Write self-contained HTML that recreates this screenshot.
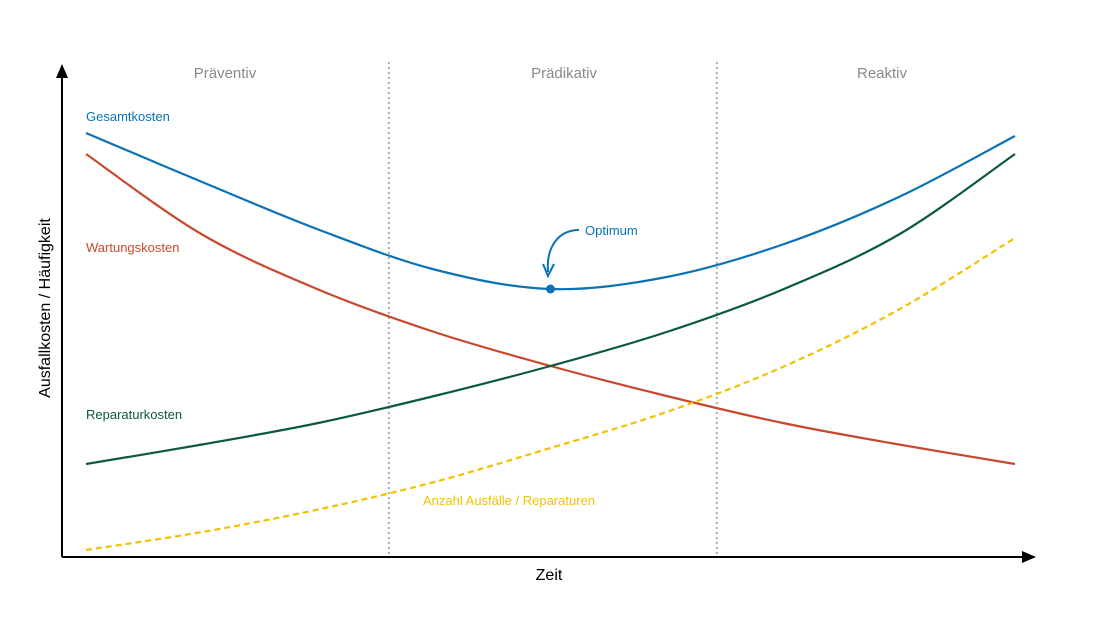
<!DOCTYPE html>
<html><head><meta charset="utf-8"><style>
body{margin:0;background:#fff;}
svg{display:block;font-family:"Liberation Sans","DejaVu Sans",sans-serif;}
</style></head><body>
<svg id="chart" width="1100" height="619" viewBox="0 0 1100 619">
<defs><marker id="ah" markerWidth="8" markerHeight="8" refX="6" refY="4" orient="auto"><path d="M0,1 L7,4 L0,7 Z" fill="#000"/></marker></defs>
<g id="grid"></g>
<line x1="62" y1="557" x2="62" y2="66" stroke="#000" stroke-width="2" marker-end="url(#ah)"/>
<line x1="62" y1="557" x2="1034" y2="557" stroke="#000" stroke-width="2" marker-end="url(#ah)"/>
<text x="225" y="78" font-size="15" fill="#8a8a8a" text-anchor="middle">Präventiv</text>
<text x="564" y="78" font-size="15" fill="#8a8a8a" text-anchor="middle">Prädikativ</text>
<text x="882" y="78" font-size="15" fill="#8a8a8a" text-anchor="middle">Reaktiv</text>
<text x="549" y="580" font-size="16" text-anchor="middle">Zeit</text>
<text transform="translate(50,308) rotate(-90)" font-size="16" text-anchor="middle">Ausfallkosten / Häufigkeit</text>
<g id="series"></g>
<text x="86" y="121" font-size="13" fill="#0a72b5">Gesamtkosten</text>
<text x="86" y="252" font-size="13" fill="#c8482e">Wartungskosten</text>
<text x="86" y="419" font-size="13" fill="#0b5a3a">Reparaturkosten</text>
<text x="423" y="505" font-size="13" fill="#f2c200">Anzahl Ausfälle / Reparaturen</text>
<text x="585" y="235" font-size="13" fill="#0a72b5">Optimum</text>
<path d="M579,230 C560,230 546,245 548,272" fill="none" stroke="#0a72b5" stroke-width="2"/>
<path d="M543,264 L548,276 L554,264" fill="none" stroke="#0a72b5" stroke-width="2"/>
</svg>
<script>
const times=[0,0.125,0.25,0.375,0.5,0.625,0.75,0.875,1];
const gesamt=[84.8,75,65.5,57.5,53.6,56,62.5,72,84.2];
const wartung=[80.6,64.5,53.5,45,38.2,32.2,26.8,22.5,18.6];
const reparatur=[18.6,22.5,26.8,32.2,38.2,45,53.5,64.5,80.6];
const anzahl=[1.4,5,9.5,15,21.8,29,38,49.5,63.8];
const phaseBounds=[0.326,0.679];
const optimumT=0.5, optimumV=53.6;
const NS="http://www.w3.org/2000/svg";
function xs(t){return 86+t*929;}
function ys(v){return 557-v*5;}
function path(vals){
  const p=times.map((t,i)=>[xs(t),ys(vals[i])]);
  let d="M"+p[0][0]+","+p[0][1];
  for(let i=0;i<p.length-1;i++){
    const p0=p[i-1]||p[i],p1=p[i],p2=p[i+1],p3=p[i+2]||p2;
    const c1=[p1[0]+(p2[0]-p0[0])/6,p1[1]+(p2[1]-p0[1])/6];
    const c2=[p2[0]-(p3[0]-p1[0])/6,p2[1]-(p3[1]-p1[1])/6];
    d+=` C${c1[0]},${c1[1]} ${c2[0]},${c2[1]} ${p2[0]},${p2[1]}`;
  }
  return d;
}
const grid=document.getElementById('grid');
phaseBounds.forEach(b=>{
  const l=document.createElementNS(NS,'line');
  l.setAttribute('x1',xs(b));l.setAttribute('x2',xs(b));
  l.setAttribute('y1',62);l.setAttribute('y2',557);
  l.setAttribute('stroke','#aaa');l.setAttribute('stroke-width','2');l.setAttribute('stroke-dasharray','2,3');
  
  
  grid.appendChild(l);
});
const g=document.getElementById('series');
[[gesamt,'#0a72b5','',"line-gesamtkosten"],[wartung,'#c8482e','',"line-wartungskosten"],[reparatur,'#0b5a3a','',"line-reparaturkosten"],[anzahl,'#f2c200','6,4',"line-anzahl-ausfaelle"]].forEach(s=>{
  const p=document.createElementNS(NS,'path');
  p.setAttribute('d',path(s[0]));p.setAttribute('fill','none');
  p.setAttribute('stroke',s[1]);p.setAttribute('stroke-width','2.2');
  if(s[2])p.setAttribute('stroke-dasharray',s[2]);
  
  
  g.appendChild(p);
});
const c=document.createElementNS(NS,'circle');
c.setAttribute('cx',xs(optimumT));c.setAttribute('cy',ys(optimumV));c.setAttribute('r',4.5);c.setAttribute('fill','#0a72b5');


g.appendChild(c);
</script>
</body></html>
